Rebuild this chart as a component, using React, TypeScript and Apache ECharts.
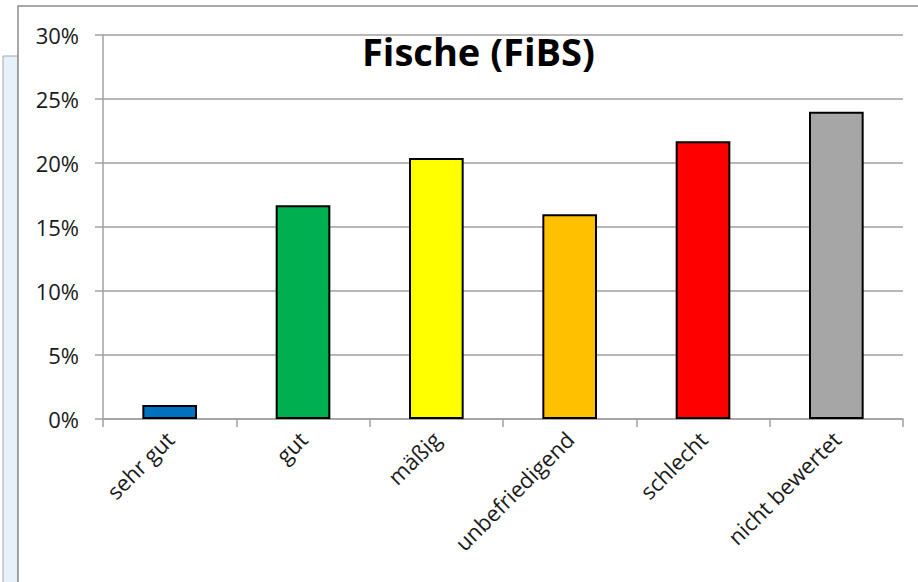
import React, { useEffect, useRef } from "react";
import * as echarts from "echarts";

const categories = ["sehr gut", "gut", "mäßig", "unbefriedigend", "schlecht", "nicht bewertet"];
const values = [1.1, 16.7, 20.4, 16.0, 21.7, 24.0];
const barColors = ["#0070C0", "#00B050", "#FFFF00", "#FFC000", "#FF0000", "#A6A6A6"];
const title = "Fische (FiBS)";

export default function App() {
  const ref = useRef<HTMLDivElement>(null);
  useEffect(() => {
    document.body.style.margin = "0";
    const chart = echarts.init(ref.current!, null, { renderer: "svg" });
    const font = "Open Sans, Liberation Sans, sans-serif";
    chart.setOption({
      animation: false,
      backgroundColor: "#ffffff",
      title: {
        text: title,
        left: 357,
        top: 27,
        textStyle: { fontFamily: font, fontSize: 38, fontWeight: "bold", color: "#000" },
      },
      graphic: [
        {
          type: "rect",
          z: -10,
          shape: { x: 3, y: 56, width: 15, height: 540 },
          style: { fill: "#E6F2FB", stroke: "#A6A6A6", lineWidth: 1 },
        },
        {
          type: "rect",
          z: -10,
          shape: { x: 18, y: 6, width: 920, height: 600 },
          style: { fill: "#ffffff", stroke: "#8C8C8C", lineWidth: 1.5 },
        },
      ],
      grid: { left: 103, right: 15, top: 35, bottom: 163, containLabel: false },
      xAxis: {
        type: "category",
        data: categories,
        boundaryGap: true,
        axisLine: { lineStyle: { color: "#A0A0A0", width: 1.5 } },
        axisTick: { show: true, length: 8, alignWithLabel: false, lineStyle: { color: "#A0A0A0", width: 1.5 } },
        axisLabel: {
          rotate: 45,
          margin: 16,
          fontFamily: font,
          fontSize: 22,
          color: "#1a1a1a",
          interval: 0,
        },
      },
      yAxis: {
        type: "value",
        min: 0,
        max: 30,
        interval: 5,
        axisLine: { show: true, lineStyle: { color: "#A0A0A0", width: 1.5 } },
        axisTick: { show: true, length: 8, lineStyle: { color: "#A0A0A0", width: 1.5 } },
        splitLine: { show: true, lineStyle: { color: "#A0A0A0", width: 1.5 } },
        axisLabel: {
          formatter: "{value}%",
          margin: 24,
          fontFamily: font,
          fontSize: 22,
          color: "#1a1a1a",
        },
      },
      series: [
        {
          type: "bar",
          data: values.map((v, i) => ({
            value: v,
            itemStyle: { color: barColors[i] },
          })),
          barWidth: "41%",
          itemStyle: { borderColor: "#000", borderWidth: 2 },
        },
      ],
    });
    return () => chart.dispose();
  }, []);
  return <div ref={ref} style={{ position: "fixed", left: 0, top: 0, width: 918, height: 582 }} />;
}
